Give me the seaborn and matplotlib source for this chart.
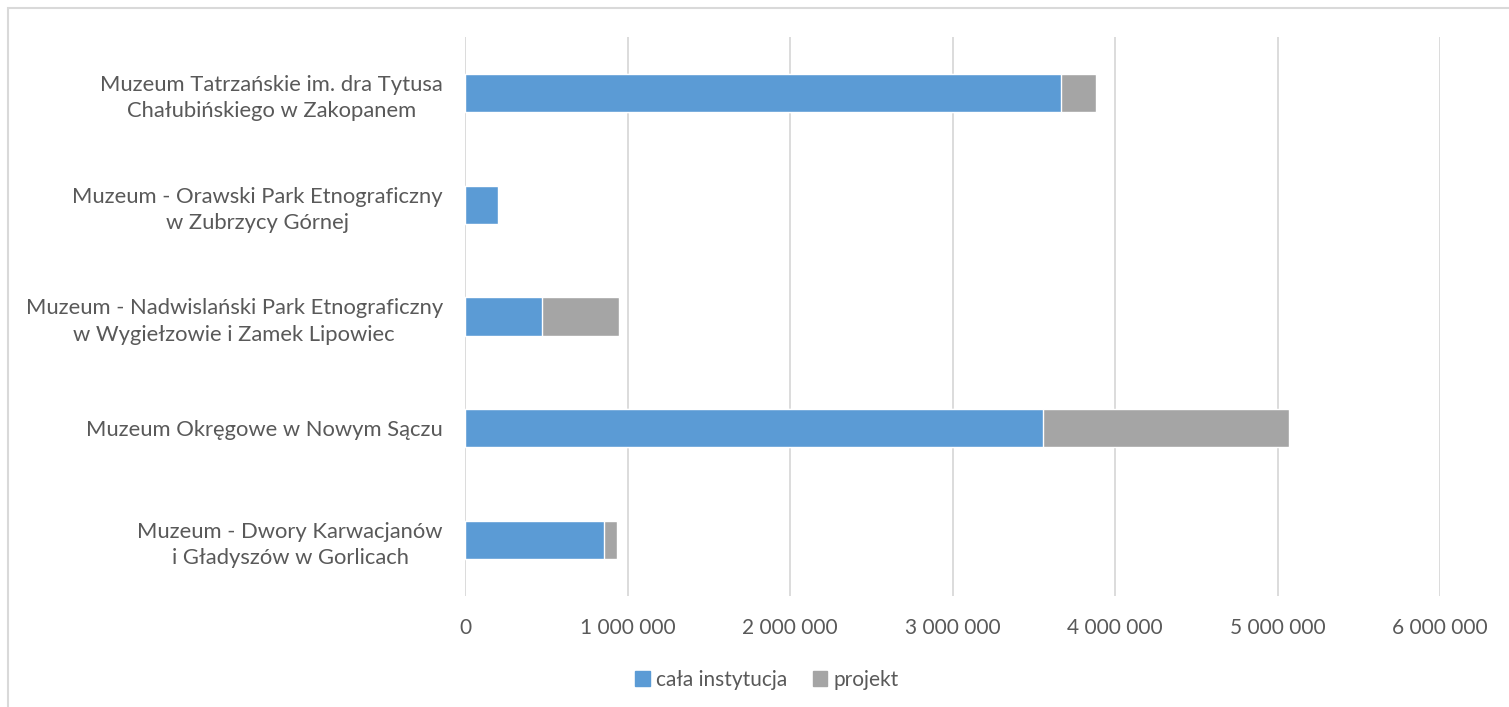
import matplotlib
matplotlib.use("Agg")
import matplotlib.pyplot as plt
import matplotlib.patches as mpatches
from matplotlib.ticker import FuncFormatter
import seaborn as sns
import pandas as pd

museums = [
    "Muzeum Tatrzańskie im. dra Tytusa\nChałubińskiego w Zakopanem",
    "Muzeum - Orawski Park Etnograficzny\nw Zubrzycy Górnej",
    "Muzeum - Nadwislański Park Etnograficzny\nw Wygiełzowie i Zamek Lipowiec",
    "Muzeum Okręgowe w Nowym Sączu",
    "Muzeum - Dwory Karwacjanów\ni Gładyszów w Gorlicach",
]
cala_instytucja = [3667000, 200000, 475000, 3557000, 856000]
projekt = [215000, 0, 473000, 1513000, 78000]

BLUE = "#5b9bd5"
GREY = "#a5a5a5"
TEXT = "#595959"

df = pd.DataFrame({"museum": museums, "cala": cala_instytucja, "projekt": projekt})
df["total"] = df["cala"] + df["projekt"]

sns.set_style("white")
plt.rcParams["font.family"] = ["Lato", "DejaVu Sans"]

fig = plt.figure(figsize=(15.09, 7.07), dpi=100)
ax = fig.add_axes([465 / 1509, 1 - 596 / 707, (1440 - 465) / 1509, (596 - 37) / 707])

sns.barplot(data=df, y="museum", x="total", color=GREY, orient="h", width=0.34,
            ax=ax, saturation=1, zorder=2)
sns.barplot(data=df, y="museum", x="cala", color=BLUE, orient="h", width=0.34,
            ax=ax, saturation=1, zorder=3)

ax.set_xlim(0, 6000000)
ax.set_xticks(range(0, 6000001, 1000000))
ax.xaxis.set_major_formatter(FuncFormatter(lambda v, p: f"{int(v):,}".replace(",", " ")))
ax.grid(axis="x", color="#d9d9d9", linewidth=1.3, zorder=0)
ax.set_axisbelow(True)
for s in ax.spines.values():
    s.set_visible(False)
ax.set_xlabel("")
ax.set_ylabel("")
ax.tick_params(axis="both", length=0, colors=TEXT)
ax.tick_params(axis="x", pad=16, labelsize=15)
ax.tick_params(axis="y", pad=16, labelsize=15.8)
for lbl in ax.get_yticklabels():
    lbl.set_horizontalalignment("right")
    lbl.set_multialignment("center")
    lbl.set_linespacing(1.4)

handles = [mpatches.Patch(color=BLUE, label="cała instytucja"),
           mpatches.Patch(color=GREY, label="projekt")]
fig.legend(handles=handles, loc="center", bbox_to_anchor=(767 / 1509, 1 - 680 / 707),
           ncol=2, frameon=False, fontsize=15, labelcolor=TEXT,
           handlelength=0.7, handleheight=0.7, handletextpad=0.3, columnspacing=1.2)

fig.add_artist(mpatches.Rectangle((8 / 1509, -0.1), 1.2, 1 - 8 / 707 + 0.1,
                                  transform=fig.transFigure, fill=False,
                                  edgecolor="#d9d9d9", linewidth=1.5))

fig.savefig("out.png", dpi=100)
